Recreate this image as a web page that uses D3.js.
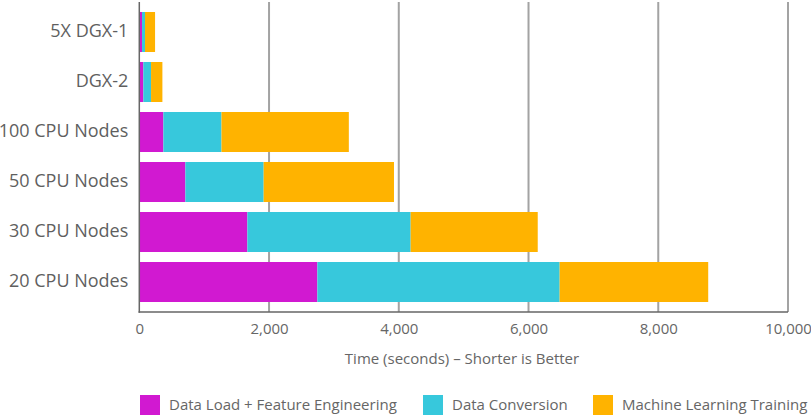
<!DOCTYPE html>
<html><head><meta charset="utf-8">
<script src="https://cdn.jsdelivr.net/npm/d3@7"></script>
<style>
html,body{margin:0;padding:0;background:#fff;}
text{font-family:"Open Sans",sans-serif;}
</style></head>
<body><svg id="c" width="811" height="415"></svg>
<script>
const categories = ["5X DGX-1","DGX-2","100 CPU Nodes","50 CPU Nodes","30 CPU Nodes","20 CPU Nodes"];
const seriesNames = ["Data Load + Feature Engineering","Data Conversion","Machine Learning Training"];
const dataLoad = [42, 62, 371, 710, 1666, 2745];
const dataConversion = [46, 119, 896, 1207, 2517, 3735];
const mlTraining = [155, 175, 1963, 2009, 1959, 2290];
const xTicks = [0, 2000, 4000, 6000, 8000, 10000];
const colors = ["#D119D1", "#37C8DC", "#FFB300"];

(function () {
const svg = d3.select("#c");
const mLeft = 139.3, mRight = 788, mTop = 2, mBottom = 312;
const x = d3.scaleLinear().domain([0, 10000]).range([mLeft, mRight]);
const y = d3.scaleBand().domain(categories).range([mTop, mBottom]).paddingInner(0.2).paddingOuter(0.2);

// gridlines
svg.append("g").selectAll("line").data(xTicks.slice(1)).join("line")
  .attr("x1", d => x(d)).attr("x2", d => x(d))
  .attr("y1", mTop).attr("y2", mBottom)
  .attr("stroke", "#a3a3a3").attr("stroke-width", 2);

// stacked bars
const rows = categories.map((c, i) => ({cat: c, v: [dataLoad[i], dataConversion[i], mlTraining[i]]}));
const g = svg.append("g");
rows.forEach(r => {
  let acc = 0;
  r.v.forEach((v, k) => {
    g.append("rect")
      .attr("x", x(acc)).attr("width", x(acc + v) - x(acc))
      .attr("y", y(r.cat)).attr("height", y.bandwidth())
      .attr("fill", colors[k]);
    acc += v;
  });
});

// axes
const xAxis = d3.axisBottom(x).tickValues(xTicks).tickSize(0).tickPadding(0).tickFormat(d3.format(","));
const ax = svg.append("g").attr("transform", `translate(0,${mBottom})`).call(xAxis);
ax.select(".domain").remove();
ax.selectAll("text").attr("font-size", 15).attr("fill", "#666").attr("y", 22).attr("dy", 0);

const yAxis = d3.axisLeft(y).tickSize(0).tickPadding(11);
const ay = svg.append("g").attr("transform", `translate(${mLeft},0)`).call(yAxis);
ay.select(".domain").remove();
ay.selectAll("text").attr("font-size", 18).attr("fill", "#5f5f5f").attr("dy", "0.25em");

svg.append("line").attr("x1", mLeft).attr("x2", mLeft).attr("y1", mTop).attr("y2", mBottom + 0.75)
  .attr("stroke", "#666").attr("stroke-width", 1.5);
svg.append("line").attr("x1", mLeft - 0.75).attr("x2", mRight).attr("y1", mBottom).attr("y2", mBottom)
  .attr("stroke", "#666").attr("stroke-width", 1.5);

// axis title
svg.append("text").attr("x", 462).attr("y", 364).attr("text-anchor", "middle")
  .attr("font-size", 15).attr("fill", "#666").text("Time (seconds) \u2013 Shorter is Better");

// legend
const legX = [140, 423, 593];
const lg = svg.append("g");
seriesNames.forEach((s, i) => {
  lg.append("rect").attr("x", legX[i]).attr("y", 395).attr("width", 20).attr("height", 20).attr("fill", colors[i]);
  lg.append("text").attr("x", legX[i] + 29).attr("y", 410).attr("font-size", 15).attr("fill", "#666").text(s);
});
})();
</script></body></html>
